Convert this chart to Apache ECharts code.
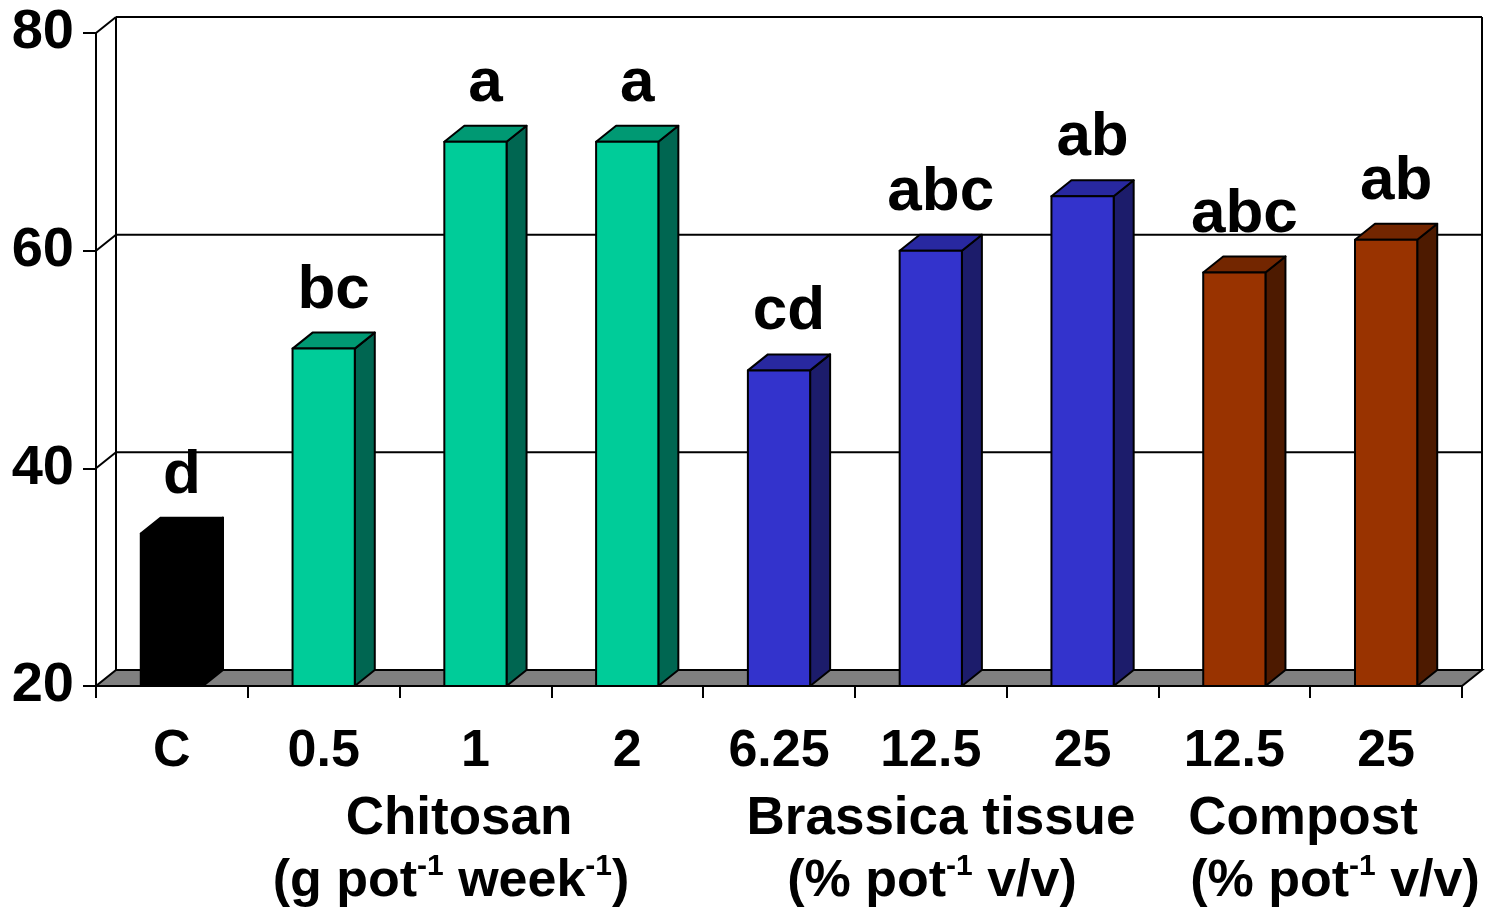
<!DOCTYPE html>
<html><head><meta charset="utf-8">
<script src="https://cdn.jsdelivr.net/npm/echarts@6/dist/echarts.min.js"></script>
<style>html,body{margin:0;padding:0;background:#fff}#c{width:1488px;height:909px}</style>
</head><body><div id="c"></div>
<script>
// ---- data ----
const categories = ['C', '0.5', '1', '2', '6.25', '12.5', '25', '12.5', '25'];
const values = [34, 51, 70, 70, 49, 60, 65, 58, 61];
const letters = ['d', 'bc', 'a', 'a', 'cd', 'abc', 'ab', 'abc', 'ab'];
const treatmentGroup = ['control', 'chitosan', 'chitosan', 'chitosan', 'brassica', 'brassica', 'brassica', 'compost', 'compost'];
const yTicks = [20, 40, 60, 80];
const groupNames = ['Chitosan', 'Brassica tissue', 'Compost'];
const groupUnits = ['{m|(g pot}{s|-1}{m| week}{s|-1}{m|)}', '{m|(% pot}{s|-1}{m| v/v)}', '{m|(% pot}{s|-1}{m| v/v)}'];

// ---- style ----
const F = '"Liberation Sans", Arial, Helvetica, sans-serif';
const DX = 20, DY = -16;
const palette = {
  control:  { front: '#000000', side: '#000000', top: '#000000' },
  chitosan: { front: '#00CC99', side: '#006651', top: '#009973' },
  brassica: { front: '#3333CC', side: '#1C1C6B', top: '#2828A0' },
  compost:  { front: '#993300', side: '#4D1A00', top: '#732600' }
};

const chart = echarts.init(document.getElementById('c'), null, { renderer: 'canvas' });

function renderWall(params, api) {
  const cs = params.coordSys;
  const v = api.value(1);
  const y = api.coord([0, v])[1];
  const x0 = cs.x, x1 = cs.x + cs.width;
  const ln = { stroke: '#000', lineWidth: 2 };
  const children = [];
  if (v === yTicks[0]) {
    children.push({ type: 'polygon', shape: { points: [[x0, y], [x1, y], [x1 + DX, y + DY], [x0 + DX, y + DY]] },
      style: { fill: '#808080', stroke: '#000', lineWidth: 2 } });
  } else {
    children.push({ type: 'line', shape: { x1: x0, y1: y, x2: x0 + DX, y2: y + DY }, style: ln });
    children.push({ type: 'line', shape: { x1: x0 + DX, y1: y + DY, x2: x1 + DX, y2: y + DY }, style: ln });
  }
  if (v === yTicks[yTicks.length - 1]) {
    const yb = api.coord([0, yTicks[0]])[1];
    children.push({ type: 'line', shape: { x1: x0 + DX, y1: y + DY, x2: x0 + DX, y2: yb + DY }, style: ln });
    children.push({ type: 'line', shape: { x1: x1 + DX, y1: y + DY, x2: x1 + DX, y2: yb + DY }, style: ln });
  }
  return { type: 'group', children };
}

function renderBar(params, api) {
  const i = params.dataIndex;
  const top = api.coord([api.value(0), api.value(1)]);
  const base = api.coord([api.value(0), yTicks[0]]);
  const bw = api.size([1, 0])[0] * 0.41;
  const xl = top[0] - bw / 2, xr = top[0] + bw / 2, yt = top[1], yb = base[1];
  const c = palette[treatmentGroup[i]];
  const st = (fill) => ({ fill, stroke: '#000', lineWidth: 2, lineJoin: 'round' });
  return { type: 'group', children: [
    { type: 'polygon', shape: { points: [[xr, yt], [xr + DX, yt + DY], [xr + DX, yb + DY], [xr, yb]] }, style: st(c.side) },
    { type: 'polygon', shape: { points: [[xl, yt], [xl + DX, yt + DY], [xr + DX, yt + DY], [xr, yt]] }, style: st(c.top) },
    { type: 'rect', shape: { x: xl, y: yt, width: bw, height: yb - yt }, style: st(c.front) },
    { type: 'text', style: { text: letters[i], x: top[0] + DX / 2, y: yt + DY - 11, align: 'center', verticalAlign: 'bottom',
      fontSize: 62, fontWeight: 'bold', fontFamily: F, fill: '#000' } }
  ] };
}

const richUnits = {
  m: { fontSize: 52, fontWeight: 'bold', fontFamily: F, fill: '#000', color: '#000' },
  s: { fontSize: 30, fontWeight: 'bold', fontFamily: F, fill: '#000', color: '#000', verticalAlign: 'top', lineHeight: 22, height: 22 }
};
const nameX = [459, 941, 1303];
const unitX = [451, 932, 1335];

const graphics = [];
groupNames.forEach((n, k) => {
  graphics.push({ type: 'text', x: nameX[k], y: 819, z: 10,
    style: { text: n, align: 'center', verticalAlign: 'middle', fontSize: 53, fontWeight: 'bold', fontFamily: F, fill: '#000' } });
  graphics.push({ type: 'text', x: unitX[k], y: 882, z: 10,
    style: { text: groupUnits[k], align: 'center', verticalAlign: 'middle', rich: richUnits, fill: '#000' } });
});

chart.setOption({
  animation: false,
  backgroundColor: '#fff',
  grid: { left: 96, right: 26, top: 33, bottom: 223, containLabel: false },
  xAxis: {
    type: 'category', data: categories, boundaryGap: true,
    axisLine: { lineStyle: { color: '#000', width: 2 } },
    axisTick: { show: true, interval: 0, length: 12, lineStyle: { color: '#000', width: 2 } },
    axisLabel: { interval: 0, margin: 40, fontSize: 52, fontWeight: 'bold', fontFamily: F, color: '#000' },
    splitLine: { show: false }
  },
  yAxis: {
    type: 'value', min: 20, max: 80, interval: 20,
    axisLine: { show: true, lineStyle: { color: '#000', width: 2 } },
    axisTick: { show: true, length: 13, lineStyle: { color: '#000', width: 2 } },
    axisLabel: { margin: 22, fontSize: 56, fontWeight: 'bold', fontFamily: F, color: '#000' },
    splitLine: { show: false }
  },
  graphic: graphics,
  series: [
    { type: 'custom', name: 'walls', z: 1, silent: true, renderItem: renderWall, data: yTicks.map(v => [0, v]) },
    { type: 'custom', name: 'bars', z: 3, renderItem: renderBar, data: categories.map((c, i) => [i, values[i]]) }
  ]
});
</script></body></html>
